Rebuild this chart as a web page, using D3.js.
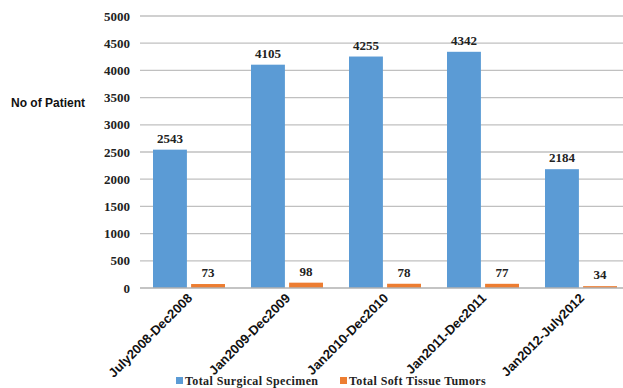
<!DOCTYPE html>
<html>
<head>
<meta charset="utf-8">
<script src="https://cdn.jsdelivr.net/npm/d3@7"></script>
<style>
  body { margin: 0; background: #fff; }
  .serif { font-family: "Liberation Serif", "Times New Roman", serif; font-weight: bold; }
  .sans { font-family: "Liberation Sans", Arial, sans-serif; font-weight: bold; }
</style>
</head>
<body>
<div id="vis"></div>
<script>
var periods = ["July2008-Dec2008", "Jan2009-Dec2009", "Jan2010-Dec2010", "Jan2011-Dec2011", "Jan2012-July2012"];
var surgical = [2543, 4105, 4255, 4342, 2184];
var softTissue = [73, 98, 78, 77, 34];
var seriesNames = ["Total Surgical Specimen", "Total Soft Tissue Tumors"];
var seriesColors = ["#5b9bd5", "#ed7d31"];
var yTicks = [0, 500, 1000, 1500, 2000, 2500, 3000, 3500, 4000, 4500, 5000];

var width = 623, height = 388;
var svg = d3.select("#vis").append("svg")
    .attr("width", width)
    .attr("height", height);

var x = d3.scaleBand().domain(periods).range([140, 630]);
var x1 = d3.scaleBand().domain([0, 1]).range([13, 85]).paddingInner(0.11);
var y = d3.scaleLinear().domain([0, 5000]).range([288, 16]);

// gridlines
svg.append("g").selectAll("line")
    .data(yTicks.slice(1))
    .enter().append("line")
    .attr("x1", 140).attr("x2", width)
    .attr("y1", function(d) { return y(d); })
    .attr("y2", function(d) { return y(d); })
    .attr("stroke", "#c0c0c0")
    .attr("stroke-width", 1.3);

// y tick labels
svg.append("g").selectAll("text")
    .data(yTicks)
    .enter().append("text")
    .attr("class", "serif")
    .attr("x", 130)
    .attr("y", function(d) { return y(d); })
    .attr("dy", "0.35em")
    .attr("text-anchor", "end")
    .attr("font-size", 13)
    .attr("fill", "#222")
    .text(function(d) { return d; });

svg.append("text")
    .attr("class", "sans")
    .attr("x", 11).attr("y", 107)
    .attr("font-size", 12)
    .attr("fill", "#111")
    .text("No of Patient");

var rows = periods.map(function(p, i) { return { period: p, vals: [surgical[i], softTissue[i]] }; });

var groups = svg.append("g").selectAll("g")
    .data(rows)
    .enter().append("g")
    .attr("transform", function(d) { return "translate(" + x(d.period) + ",0)"; });

groups.selectAll("rect")
    .data(function(d) { return d.vals; })
    .enter().append("rect")
    .attr("x", function(d, i) { return x1(i); })
    .attr("width", x1.bandwidth())
    .attr("y", function(d) { return y(d); })
    .attr("height", function(d) { return y(0) - y(d); })
    .attr("fill", function(d, i) { return seriesColors[i]; });

groups.selectAll("text")
    .data(function(d) { return d.vals; })
    .enter().append("text")
    .attr("class", "serif")
    .attr("x", function(d, i) { return x1(i) + x1.bandwidth() / 2; })
    .attr("y", function(d) { return y(d) - 7; })
    .attr("text-anchor", "middle")
    .attr("font-size", 13)
    .attr("fill", "#222")
    .text(function(d) { return d; });

// baseline
svg.append("line")
    .attr("x1", 140).attr("x2", width)
    .attr("y1", y(0)).attr("y2", y(0))
    .attr("stroke", "#b0b0b0")
    .attr("stroke-width", 1.5);

// x labels
svg.append("g").selectAll("text")
    .data(periods)
    .enter().append("text")
    .attr("class", "sans")
    .attr("transform", function(d) {
        return "translate(" + (x(d) + x.bandwidth() / 2 + 4) + ",299) rotate(-45)";
    })
    .attr("text-anchor", "end")
    .attr("font-size", 13)
    .attr("fill", "#111")
    .text(function(d) { return d; });

// legend
var legendX = [176, 340];
var legend = svg.append("g").selectAll("g")
    .data(seriesNames)
    .enter().append("g")
    .attr("transform", function(d, i) { return "translate(" + legendX[i] + ",377)"; });
legend.append("rect")
    .attr("width", 7).attr("height", 7)
    .attr("y", 0)
    .attr("fill", function(d, i) { return seriesColors[i]; });
legend.append("text")
    .attr("class", "serif")
    .attr("x", 9).attr("y", 8)
    .attr("font-size", 12)
    .style("letter-spacing", "0.4px")
    .attr("fill", "#222")
    .text(function(d) { return d; });
</script>
</body>
</html>
